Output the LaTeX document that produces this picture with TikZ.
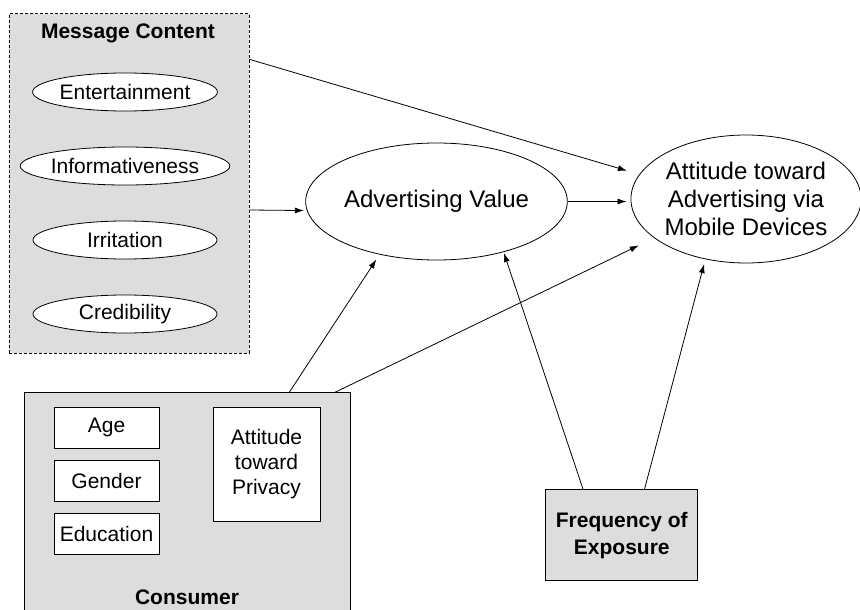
\documentclass[tikz,border=0pt]{standalone}
\usepackage{fontspec}
\setmainfont{Liberation Sans}
\usetikzlibrary{shapes.geometric,arrows.meta}
\definecolor{boxgray}{RGB}{221,221,221}
\begin{document}
\begin{tikzpicture}[x=1pt,y=-1pt,>={Latex[length=9pt,width=6pt]},
			every node/.style={inner sep=0pt,font=\fontsize{21}{25}\selectfont},
			title/.style={font=\bfseries\fontsize{21}{27}\selectfont,align=center},
			item/.style={ellipse,draw,fill=white,line width=0.8pt,minimum width=184pt,minimum height=38pt},
			varbox/.style={draw,fill=white,line width=0.8pt,minimum width=105pt,minimum height=41pt,align=center},
			bigoval/.style={ellipse,draw,fill=white,line width=0.8pt,align=center,font=\fontsize{24}{28}\selectfont},
			link/.style={->,line width=0.8pt,shorten >=#1},
			link/.default=4pt]
			\clip (0,0) rectangle (860,610);
			\node[draw,dash pattern=on 3pt off 2pt,fill=boxgray,line width=0.8pt,minimum width=240pt,minimum height=339pt] (msg) at (129.3,183.4) {};
			\node[title] (msgtitle) at (128,33) {Message Content};
			\foreach \y/\nm/\txt in {92/ent/Entertainment,166/inf/Informativeness,240/irr/Irritation,314/cred/Credibility}{
				\node[item] (\nm) at (125,\y) {\txt};
			}
			\node[draw,fill=boxgray,line width=0.9pt,minimum width=326pt,minimum height=240pt,anchor=north west] (cons) at (24,392.3) {};
			\foreach \y/\nm/\txt in {427.5/age/Age,480.5/gen/Gender,533.5/edu/Education}{
				\node[varbox] (\nm) at (106.5,\y) {\txt};
			}
			\node[varbox,minimum width=107pt,minimum height=114pt] (priv) at (266.5,464) {Attitude\\toward\\Privacy};
			\node[title] (constitle) at (187,597) {Consumer};
			\node[draw,fill=boxgray,line width=0.9pt,minimum width=152pt,minimum height=91pt,title] (freq) at (621.8,535.4) {Frequency of\\Exposure};
			\node[bigoval,minimum width=217pt,minimum height=117pt] (av) at (436.5,201.5) {Advertising Value};
			\node[bigoval,minimum width=226pt,minimum height=128pt] (att) at (746,199) {Attitude toward\\Advertising via\\Mobile Devices};
			\coordinate (m1) at (249.3,59.3);
			\coordinate (m2) at (249.3,210);
			\coordinate (c1) at (289.3,392.3);
			\coordinate (c2) at (335,392.3);
			\coordinate (f1) at (583.3,490);
			\coordinate (f2) at (644.3,490);
			\draw[link=13pt] (m1) -- (att.167);
			\draw[link=3pt] (m2) -- (av.184.5);
			\draw[link] (av.east) -- (av.east -| att.west);
			\draw[link=6pt] (c1) -- (av.223.3);
			\draw[link=17pt] (c2) -- (att.203.2);
			\draw[link=1pt] (f1) -- (av.323.9);
			\draw[link=5pt] (f2) -- (att.236.5);
\end{tikzpicture}
\end{document}
